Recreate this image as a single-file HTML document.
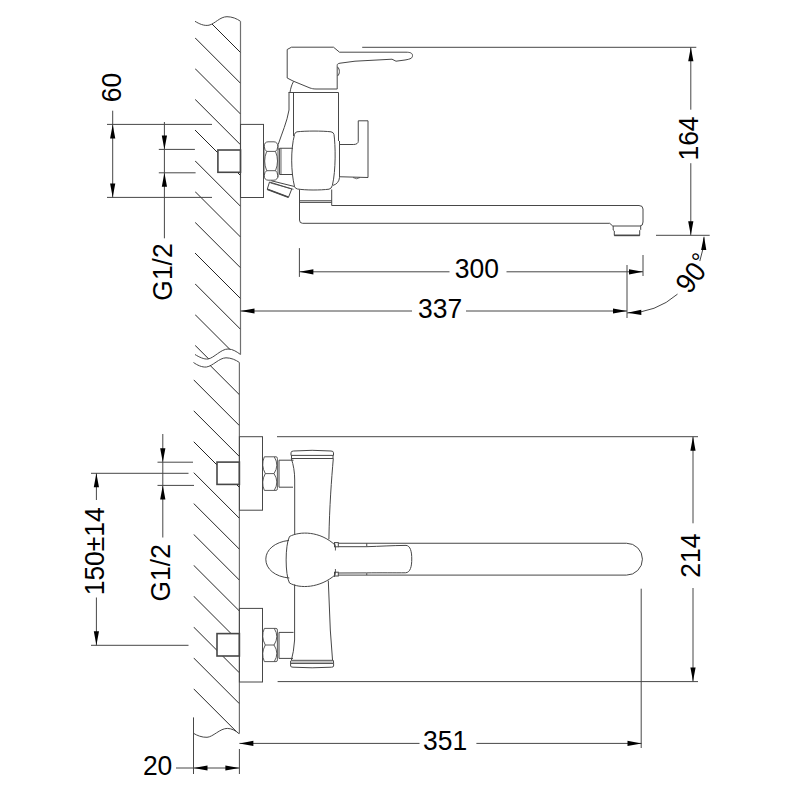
<!DOCTYPE html>
<html><head><meta charset="utf-8"><style>
html,body{margin:0;padding:0;background:#fff;}
svg{display:block;}
text{font-family:"Liberation Sans",sans-serif;}
</style></head><body>
<svg width="800" height="800" viewBox="0 0 800 800">
<rect width="800" height="800" fill="#fff"/>
<defs>
<clipPath id="cu"><path d="M195,21.3 C199,23.7 204,26.2 209,25.2 C215,23.7 220,16.7 227,16.7 C232,16.7 237,18.7 240.5,21.3 L240.5,354.5 C237,352 233,349 228,349 C221,349 214,358 208,359 C204,359.5 199,357 195,354.5 Z M217.9,150 L217.9,172.3 L240.5,172.3 L240.5,150 Z" clip-rule="evenodd"/></clipPath>
<clipPath id="cl"><path d="M193.5,362.5 C197,365 202,367.5 206.5,367 C213,366 219,358 226,357.8 C231,357.8 236,360 239.4,362.5 L239.4,733.7 C236,731 232,728.4 227.3,728.4 C220,728.4 213,737 207,737.3 C202,737.5 197,735.5 193.5,733.3 Z M217,462.1 L217,484.4 L239.4,484.4 L239.4,462.1 Z M217,633.6 L217,656 L239.4,656 L239.4,633.6 Z" clip-rule="evenodd"/></clipPath>
</defs>
<path d="M195,21.3 C199,23.7 204,26.2 209,25.2 C215,23.7 220,16.7 227,16.7 C232,16.7 237,18.7 240.5,21.3" stroke="#474747" stroke-width="1" fill="none" />
<path d="M195,354.5 C199,357 204,359.5 208,359 C214,358 221,349 228,349 C233,349 237,352 240.5,354.5" stroke="#474747" stroke-width="1" fill="none" />
<path d="M193.5,362.5 C197,365 202,367.5 206.5,367 C213,366 219,358 226,357.8 C231,357.8 236,360 239.4,362.5" stroke="#474747" stroke-width="1" fill="none" />
<path d="M193.5,733.3 C197,735.5 202,737.5 207,737.3 C213,737 220,728.4 227.3,728.4 C232,728.4 236,731 239.1,733.7" stroke="#474747" stroke-width="1" fill="none" />
<line x1="240.50" y1="21.30" x2="240.50" y2="354.50" stroke="#707070" stroke-width="1.2" />
<line x1="239.40" y1="362.50" x2="239.40" y2="733.70" stroke="#707070" stroke-width="1.2" />
<line x1="195" y1="7.00" x2="240.5" y2="52.50" stroke="#262626" stroke-width="1" clip-path="url(#cu)"/>
<line x1="195" y1="37.75" x2="240.5" y2="83.25" stroke="#262626" stroke-width="1" clip-path="url(#cu)"/>
<line x1="195" y1="68.50" x2="240.5" y2="114.00" stroke="#262626" stroke-width="1" clip-path="url(#cu)"/>
<line x1="195" y1="99.25" x2="240.5" y2="144.75" stroke="#262626" stroke-width="1" clip-path="url(#cu)"/>
<line x1="195" y1="130.00" x2="240.5" y2="175.50" stroke="#262626" stroke-width="1" clip-path="url(#cu)"/>
<line x1="195" y1="160.75" x2="240.5" y2="206.25" stroke="#262626" stroke-width="1" clip-path="url(#cu)"/>
<line x1="195" y1="191.50" x2="240.5" y2="237.00" stroke="#262626" stroke-width="1" clip-path="url(#cu)"/>
<line x1="195" y1="222.25" x2="240.5" y2="267.75" stroke="#262626" stroke-width="1" clip-path="url(#cu)"/>
<line x1="195" y1="253.00" x2="240.5" y2="298.50" stroke="#262626" stroke-width="1" clip-path="url(#cu)"/>
<line x1="195" y1="283.75" x2="240.5" y2="329.25" stroke="#262626" stroke-width="1" clip-path="url(#cu)"/>
<line x1="195" y1="314.50" x2="240.5" y2="360.00" stroke="#262626" stroke-width="1" clip-path="url(#cu)"/>
<line x1="195" y1="345.25" x2="240.5" y2="390.75" stroke="#262626" stroke-width="1" clip-path="url(#cu)"/>
<line x1="195" y1="376.00" x2="240.5" y2="421.50" stroke="#262626" stroke-width="1" clip-path="url(#cu)"/>
<line x1="193.5" y1="348.80" x2="239.4" y2="394.70" stroke="#262626" stroke-width="1" clip-path="url(#cl)"/>
<line x1="193.5" y1="379.70" x2="239.4" y2="425.60" stroke="#262626" stroke-width="1" clip-path="url(#cl)"/>
<line x1="193.5" y1="410.60" x2="239.4" y2="456.50" stroke="#262626" stroke-width="1" clip-path="url(#cl)"/>
<line x1="193.5" y1="441.50" x2="239.4" y2="487.40" stroke="#262626" stroke-width="1" clip-path="url(#cl)"/>
<line x1="193.5" y1="472.40" x2="239.4" y2="518.30" stroke="#262626" stroke-width="1" clip-path="url(#cl)"/>
<line x1="193.5" y1="503.30" x2="239.4" y2="549.20" stroke="#262626" stroke-width="1" clip-path="url(#cl)"/>
<line x1="193.5" y1="534.20" x2="239.4" y2="580.10" stroke="#262626" stroke-width="1" clip-path="url(#cl)"/>
<line x1="193.5" y1="565.10" x2="239.4" y2="611.00" stroke="#262626" stroke-width="1" clip-path="url(#cl)"/>
<line x1="193.5" y1="596.00" x2="239.4" y2="641.90" stroke="#262626" stroke-width="1" clip-path="url(#cl)"/>
<line x1="193.5" y1="626.90" x2="239.4" y2="672.80" stroke="#262626" stroke-width="1" clip-path="url(#cl)"/>
<line x1="193.5" y1="657.80" x2="239.4" y2="703.70" stroke="#262626" stroke-width="1" clip-path="url(#cl)"/>
<line x1="193.5" y1="688.70" x2="239.4" y2="734.60" stroke="#262626" stroke-width="1" clip-path="url(#cl)"/>
<rect x="240.50" y="124.40" width="23.00" height="73.10" rx="0" stroke="#474747" stroke-width="1" fill="none"/>
<rect x="217.90" y="150.00" width="22.60" height="22.30" rx="0" stroke="#474747" stroke-width="1.6" fill="none"/>
<path d="M264,144.5 L264,177.5 M278,144.5 L278,177.5" stroke="#474747" stroke-width="0.9" fill="none" />
<path d="M264.1,146.5 Q264.3,142 268,141.8 L274,141.8 Q277.7,142 277.9,146.5" stroke="#474747" stroke-width="0.9" fill="none" />
<path d="M264.2,146.5 Q264.5,150 266.7,151.4 L275.5,151.4 Q277.5,150 277.8,146.5" stroke="#474747" stroke-width="0.9" fill="none" />
<path d="M266.7,151.4 Q262.6,161 266.7,170.7 M275.5,151.4 Q279.5,161 275.5,170.7" stroke="#474747" stroke-width="0.9" fill="none" />
<path d="M264.2,175.5 Q264.5,172 266.7,170.7 L275.5,170.7 Q277.5,172 277.8,175.5" stroke="#474747" stroke-width="0.9" fill="none" />
<path d="M264.1,175.5 Q264.3,180 268,180.2 L274,180.2 Q277.7,180 277.9,175.5" stroke="#474747" stroke-width="0.9" fill="none" />
<line x1="278.00" y1="149.00" x2="279.60" y2="149.00" stroke="#474747" stroke-width="0.8" />
<path d="M293,148.25 L279.6,148.25 L279.6,174.5 L293,174.5" stroke="#474747" stroke-width="1" fill="none" />
<line x1="281.00" y1="148.25" x2="281.00" y2="174.50" stroke="#474747" stroke-width="0.8" />
<path d="M287.2,49.5 L291.5,47.2 L333.5,47.2 L339.5,52.2 L406,52.2 C410,52.2 412.5,53 412.5,55.5 C412.5,58 411,59 405,60 L396,61.2 L392,59.2 L383,59.7 L355,61.2 L340,63.2 C338,63.5 337.2,64 337.2,65.5 L337.2,89 L316,89 C313,89 312,88.5 310,88 L293,81 L287.2,78 Z" stroke="#474747" stroke-width="1" fill="none" />
<path d="M337.5,67 C340,69 340,74 337.5,76" stroke="#474747" stroke-width="1" fill="none" />
<path d="M293.5,81.5 C291.5,85 290.5,89 290,92.5" stroke="#474747" stroke-width="1" fill="none" />
<line x1="288.50" y1="92.50" x2="338.50" y2="92.50" stroke="#474747" stroke-width="1" />
<path d="M289,92.5 L289,110 C287,122 282,133 278.2,144.5" stroke="#474747" stroke-width="1" fill="none" />
<line x1="293.50" y1="92.50" x2="293.50" y2="136.00" stroke="#474747" stroke-width="1" />
<line x1="338.50" y1="92.50" x2="338.50" y2="141.00" stroke="#474747" stroke-width="1" />
<line x1="339.50" y1="141.00" x2="339.50" y2="177.40" stroke="#474747" stroke-width="1" />
<path d="M339.5,177.4 Q339,183.5 333,185.4" stroke="#474747" stroke-width="1" fill="none" />
<path d="M297,131.8 C306,130.8 322,130.8 331,131.8 Q333.5,132.2 334,134.5 C335.5,145 336,170 332.4,185.3 Q331.5,188.8 329,189.2 C320,190.3 306,190.3 297.5,189 Q295,188.5 294.5,186.5 C291,172 290.5,150 294.5,134.5 Q295,132.2 297,131.8 Z" stroke="#474747" stroke-width="1" fill="none" />
<path d="M340,144.5 L353.75,144.5 C356.5,144.5 358.25,143 358.25,141.5 L358.25,120.8 L368,120.8 L368,177.5 L340,176.75" stroke="#474747" stroke-width="1" fill="none" />
<path d="M353,177.5 Q356.75,180 360,177.5" stroke="#474747" stroke-width="0.8" fill="none" />
<path d="M269.5,182 L291.75,189 L288.5,197.25 L267.25,189.25 Z" stroke="#474747" stroke-width="1" fill="none" />
<line x1="267.25" y1="189.25" x2="288.50" y2="197.25" stroke="#474747" stroke-width="1.8" />
<path d="M271.25,180.75 L294.5,186.5" stroke="#474747" stroke-width="1" fill="none" />
<path d="M270.5,183 L293.5,189.3" stroke="#474747" stroke-width="0.8" fill="none" />
<path d="M299.5,189.5 L299.5,220 Q299.5,223.3 302.5,223.3 L609.7,223.3 L612.75,226 L640,226 Q643,226 643,222 L643,209 Q643,205.5 639,205.5 L331.7,205.5 L331.7,189.5" stroke="#474747" stroke-width="1" fill="none" />
<line x1="299.50" y1="200.75" x2="331.70" y2="200.75" stroke="#474747" stroke-width="1" />
<line x1="299.50" y1="202.40" x2="331.70" y2="202.40" stroke="#474747" stroke-width="1" />
<path d="M613.2,226 L613.2,230 L614.3,231 L614.3,235.4 L639.7,235.4 L639.7,230.5 L640.7,229.5 L640.7,226" stroke="#474747" stroke-width="1" fill="none" />
<line x1="614.30" y1="235.40" x2="639.70" y2="235.40" stroke="#474747" stroke-width="1.6" />
<line x1="107.00" y1="124.40" x2="212.00" y2="124.40" stroke="#474747" stroke-width="1" />
<line x1="107.00" y1="197.40" x2="212.00" y2="197.40" stroke="#474747" stroke-width="1" />
<line x1="112.70" y1="110.70" x2="112.70" y2="197.40" stroke="#474747" stroke-width="1" />
<polygon points="112.70,124.40 115.30,138.40 110.10,138.40" fill="#000"/>
<polygon points="112.70,197.40 110.10,183.40 115.30,183.40" fill="#000"/>
<text transform="translate(111.40,87.60) rotate(-90) scale(0.935,1)" text-anchor="middle" dominant-baseline="central" font-size="28.3" fill="#000">60</text>
<line x1="164.40" y1="122.00" x2="164.40" y2="238.30" stroke="#474747" stroke-width="1" />
<polygon points="164.40,149.40 161.80,135.40 167.00,135.40" fill="#000"/>
<polygon points="164.40,172.80 167.00,186.80 161.80,186.80" fill="#000"/>
<line x1="158.80" y1="149.40" x2="194.90" y2="149.40" stroke="#474747" stroke-width="1" />
<line x1="158.80" y1="172.80" x2="195.60" y2="172.80" stroke="#474747" stroke-width="1" />
<text transform="translate(161.90,272.00) rotate(-90) scale(0.935,1)" text-anchor="middle" dominant-baseline="central" font-size="28.3" fill="#000">G1/2</text>
<line x1="362.20" y1="47.30" x2="696.30" y2="47.30" stroke="#474747" stroke-width="1" />
<line x1="690.80" y1="47.30" x2="690.80" y2="109.70" stroke="#474747" stroke-width="1" />
<line x1="690.80" y1="163.20" x2="690.80" y2="235.30" stroke="#474747" stroke-width="1" />
<polygon points="690.80,47.30 693.40,61.30 688.20,61.30" fill="#000"/>
<polygon points="690.80,235.30 688.20,221.30 693.40,221.30" fill="#000"/>
<line x1="656.00" y1="235.30" x2="709.70" y2="235.30" stroke="#474747" stroke-width="1" />
<text transform="translate(688.40,138.50) rotate(-90) scale(0.935,1)" text-anchor="middle" dominant-baseline="central" font-size="28.3" fill="#000">164</text>
<line x1="299.40" y1="248.10" x2="299.40" y2="276.90" stroke="#474747" stroke-width="1" />
<line x1="643.00" y1="255.00" x2="643.00" y2="276.00" stroke="#474747" stroke-width="1" />
<line x1="299.40" y1="271.80" x2="449.50" y2="271.80" stroke="#474747" stroke-width="1" />
<line x1="506.50" y1="271.80" x2="643.00" y2="271.80" stroke="#474747" stroke-width="1" />
<polygon points="299.40,271.80 313.40,269.20 313.40,274.40" fill="#000"/>
<polygon points="643.00,271.80 629.00,274.40 629.00,269.20" fill="#000"/>
<text transform="translate(476.90,268.50) rotate(0) scale(0.935,1)" text-anchor="middle" dominant-baseline="central" font-size="28.3" fill="#000">300</text>
<line x1="627.00" y1="265.00" x2="627.00" y2="318.00" stroke="#474747" stroke-width="1" />
<line x1="240.50" y1="311.00" x2="412.00" y2="311.00" stroke="#474747" stroke-width="1" />
<line x1="466.00" y1="311.00" x2="627.00" y2="311.00" stroke="#474747" stroke-width="1" />
<polygon points="240.50,311.00 254.50,308.40 254.50,313.60" fill="#000"/>
<polygon points="627.00,311.00 613.00,313.60 613.00,308.40" fill="#000"/>
<text transform="translate(440.10,308.50) rotate(0) scale(0.935,1)" text-anchor="middle" dominant-baseline="central" font-size="28.3" fill="#000">337</text>
<path d="M627.00,313.00 A77,77 0 0 0 677.52,294.11" stroke="#474747" stroke-width="1" fill="none" />
<path d="M699.80,261.07 A77,77 0 0 0 703.99,237.34" stroke="#474747" stroke-width="1" fill="none" />
<polygon points="627.30,312.80 641.22,309.78 641.37,314.98" fill="#000"/>
<polygon points="704.00,236.00 706.32,250.05 701.12,249.95" fill="#000"/>
<text transform="translate(690.60,277.30) rotate(-53) scale(0.935,1)" text-anchor="middle" dominant-baseline="central" font-size="28.3" fill="#000">90</text>
<text transform="translate(699.90,259.80) rotate(-53) scale(0.935,1)" text-anchor="middle" dominant-baseline="central" font-size="25" fill="#000">°</text>
<rect x="239.40" y="436.70" width="23.10" height="73.50" rx="0" stroke="#474747" stroke-width="1" fill="none"/>
<rect x="217.00" y="462.10" width="22.40" height="22.30" rx="0" stroke="#474747" stroke-width="1.6" fill="none"/>
<path d="M264.3,456.8 L276,456.8 Q277.4,456.8 277.4,458.5 L277.4,488.7 Q277.4,490.4 276,490.4 L264.3,490.4" stroke="#474747" stroke-width="0.9" fill="none" />
<path d="M264.3,456.90000000000003 Q260.7,465.2 265.3,473.6 Q260.7,482.0 264.3,490.29999999999995" stroke="#474747" stroke-width="0.9" fill="none" />
<path d="M274.3,456.90000000000003 Q279.5,465.2 274,473.6 Q279.5,482.0 274.3,490.29999999999995" stroke="#474747" stroke-width="0.9" fill="none" />
<line x1="265.30" y1="473.60" x2="274.00" y2="473.60" stroke="#474747" stroke-width="0.9" />
<path d="M293.5,460.2 L279,460.2 L279,487.2 L293,487.2" stroke="#474747" stroke-width="1" fill="none" />
<rect x="239.40" y="608.40" width="23.10" height="73.60" rx="0" stroke="#474747" stroke-width="1" fill="none"/>
<rect x="217.00" y="633.60" width="22.40" height="22.40" rx="0" stroke="#474747" stroke-width="1.6" fill="none"/>
<path d="M264.3,628.4 L276,628.4 Q277.4,628.4 277.4,630.1 L277.4,659.9 Q277.4,661.6 276,661.6 L264.3,661.6" stroke="#474747" stroke-width="0.9" fill="none" />
<path d="M264.3,628.5 Q260.7,636.7 265.3,645.0 Q260.7,653.3 264.3,661.5" stroke="#474747" stroke-width="0.9" fill="none" />
<path d="M274.3,628.5 Q279.5,636.7 274,645.0 Q279.5,653.3 274.3,661.5" stroke="#474747" stroke-width="0.9" fill="none" />
<line x1="265.30" y1="645.00" x2="274.00" y2="645.00" stroke="#474747" stroke-width="0.9" />
<path d="M293.5,632.4 L279,632.4 L279,658.4 L293,658.4" stroke="#474747" stroke-width="1" fill="none" />
<path d="M291,455.4 L291,452.8 Q291,451 293.5,451 Q312,449.6 331,451 Q333.5,451 333.5,452.8 L333.5,455.4 Z" stroke="#474747" stroke-width="1" fill="none" />
<path d="M291.5,455.4 L291.5,458.5 M333,455.4 L333,458.5" stroke="#474747" stroke-width="1" fill="none" />
<line x1="291.20" y1="458.50" x2="333.30" y2="458.50" stroke="#474747" stroke-width="1" />
<path d="M291.3,458.5 C293.5,465 294.7,472 294.7,480 L294.7,534" stroke="#474747" stroke-width="1" fill="none" />
<path d="M333.3,458.5 C331.5,480 329.5,505 328.9,539.3" stroke="#474747" stroke-width="1" fill="none" />
<path d="M294.6,584.5 L294.6,640 Q293.8,652 291.2,661" stroke="#474747" stroke-width="1" fill="none" />
<path d="M328.3,580.6 L330.3,630 L332.6,661" stroke="#474747" stroke-width="1" fill="none" />
<rect x="291.2" y="660.3" width="41.5" height="3" fill="#c4c4c4"/>
<line x1="291.20" y1="660.30" x2="332.80" y2="660.30" stroke="#474747" stroke-width="0.9" />
<path d="M291,663.4 L333.6,663.4 L333.6,666 Q333.6,667.2 331.5,667.2 Q312,668.4 293,667.2 Q290.6,667.2 290.6,666 L290.6,661" stroke="#474747" stroke-width="1" fill="none" />
<path d="M333.4,660.3 L333.6,663.4" stroke="#474747" stroke-width="1" fill="none" />
<path d="M289.5,536.5 C300,531 320,531 335,545 M289.5,583 C300,589 320,588 335,575 M289.5,536.5 C285,545 285,575 289.5,583" stroke="#474747" stroke-width="1" fill="none" />
<path d="M289,540.4 C274.5,542 265.8,550 265.8,559.2 C265.8,569 275,576.8 289.3,578" stroke="#474747" stroke-width="1" fill="none" />
<path d="M334.3,542.6 Q336.2,546 335.4,550.5 M335.4,569 Q336.2,573.5 334.3,577" stroke="#474747" stroke-width="0.9" fill="none" />
<rect x="334.50" y="542.60" width="3.80" height="4.20" rx="0" stroke="#474747" stroke-width="1" fill="none"/>
<rect x="334.50" y="572.20" width="3.80" height="3.80" rx="0" stroke="#474747" stroke-width="1" fill="none"/>
<line x1="338.30" y1="543.25" x2="626.50" y2="543.25" stroke="#474747" stroke-width="1" />
<line x1="338.30" y1="575.10" x2="626.50" y2="575.10" stroke="#474747" stroke-width="1" />
<path d="M626.5,543.25 A15.9,15.9 0 0 1 626.5,575.1" stroke="#474747" stroke-width="1" fill="none" />
<path d="M338.3,546.7 L366.75,546.7 C380,546.3 392,545.5 406,545.4 C410.5,545.6 411.8,552 411.75,559 C411.8,566 410.5,572.6 405.5,572.8 C395,572.9 380,572.7 366.75,572.9 L338.3,573" stroke="#474747" stroke-width="1" fill="none" />
<line x1="366.75" y1="543.25" x2="366.75" y2="546.70" stroke="#474747" stroke-width="1" />
<line x1="366.75" y1="573.20" x2="366.75" y2="575.10" stroke="#474747" stroke-width="1" />
<line x1="277.00" y1="436.70" x2="698.00" y2="436.70" stroke="#474747" stroke-width="1" />
<line x1="277.60" y1="681.60" x2="698.00" y2="681.60" stroke="#474747" stroke-width="1" />
<line x1="693.00" y1="436.70" x2="693.00" y2="523.30" stroke="#474747" stroke-width="1" />
<line x1="693.00" y1="588.00" x2="693.00" y2="681.60" stroke="#474747" stroke-width="1" />
<polygon points="693.00,436.70 695.60,450.70 690.40,450.70" fill="#000"/>
<polygon points="693.00,681.60 690.40,667.60 695.60,667.60" fill="#000"/>
<text transform="translate(689.70,555.60) rotate(-90) scale(0.935,1)" text-anchor="middle" dominant-baseline="central" font-size="28.3" fill="#000">214</text>
<line x1="641.20" y1="588.70" x2="641.20" y2="748.00" stroke="#474747" stroke-width="1" />
<line x1="162.80" y1="434.00" x2="162.80" y2="537.50" stroke="#474747" stroke-width="1" />
<polygon points="162.80,462.20 160.20,448.20 165.40,448.20" fill="#000"/>
<polygon points="162.80,485.40 165.40,499.40 160.20,499.40" fill="#000"/>
<line x1="157.50" y1="462.20" x2="193.00" y2="462.20" stroke="#474747" stroke-width="1" />
<line x1="157.50" y1="485.40" x2="194.00" y2="485.40" stroke="#474747" stroke-width="1" />
<line x1="91.00" y1="473.30" x2="188.50" y2="473.30" stroke="#474747" stroke-width="1" />
<text transform="translate(160.50,572.80) rotate(-90) scale(0.935,1)" text-anchor="middle" dominant-baseline="central" font-size="28.3" fill="#000">G1/2</text>
<line x1="91.00" y1="645.30" x2="188.50" y2="645.30" stroke="#474747" stroke-width="1" />
<line x1="96.40" y1="473.30" x2="96.40" y2="500.00" stroke="#474747" stroke-width="1" />
<line x1="96.40" y1="597.50" x2="96.40" y2="645.30" stroke="#474747" stroke-width="1" />
<polygon points="96.40,473.30 99.00,487.30 93.80,487.30" fill="#000"/>
<polygon points="96.40,645.30 93.80,631.30 99.00,631.30" fill="#000"/>
<text transform="translate(93.80,551.30) rotate(-90) scale(0.935,1)" text-anchor="middle" dominant-baseline="central" font-size="28.3" fill="#000">150±14</text>
<line x1="193.50" y1="717.40" x2="193.50" y2="774.00" stroke="#474747" stroke-width="1" />
<line x1="239.40" y1="749.00" x2="239.40" y2="774.00" stroke="#474747" stroke-width="1" />
<line x1="176.00" y1="768.00" x2="239.40" y2="768.00" stroke="#474747" stroke-width="1" />
<polygon points="193.50,768.00 207.50,765.40 207.50,770.60" fill="#000"/>
<polygon points="239.40,768.00 225.40,770.60 225.40,765.40" fill="#000"/>
<text transform="translate(157.60,765.40) rotate(0) scale(0.935,1)" text-anchor="middle" dominant-baseline="central" font-size="28.3" fill="#000">20</text>
<line x1="239.40" y1="743.40" x2="419.50" y2="743.40" stroke="#474747" stroke-width="1" />
<line x1="476.40" y1="743.40" x2="641.50" y2="743.40" stroke="#474747" stroke-width="1" />
<polygon points="239.40,743.40 253.40,740.80 253.40,746.00" fill="#000"/>
<polygon points="641.50,743.40 627.50,746.00 627.50,740.80" fill="#000"/>
<text transform="translate(445.10,740.40) rotate(0) scale(0.935,1)" text-anchor="middle" dominant-baseline="central" font-size="28.3" fill="#000">351</text>
</svg>
</body></html>
